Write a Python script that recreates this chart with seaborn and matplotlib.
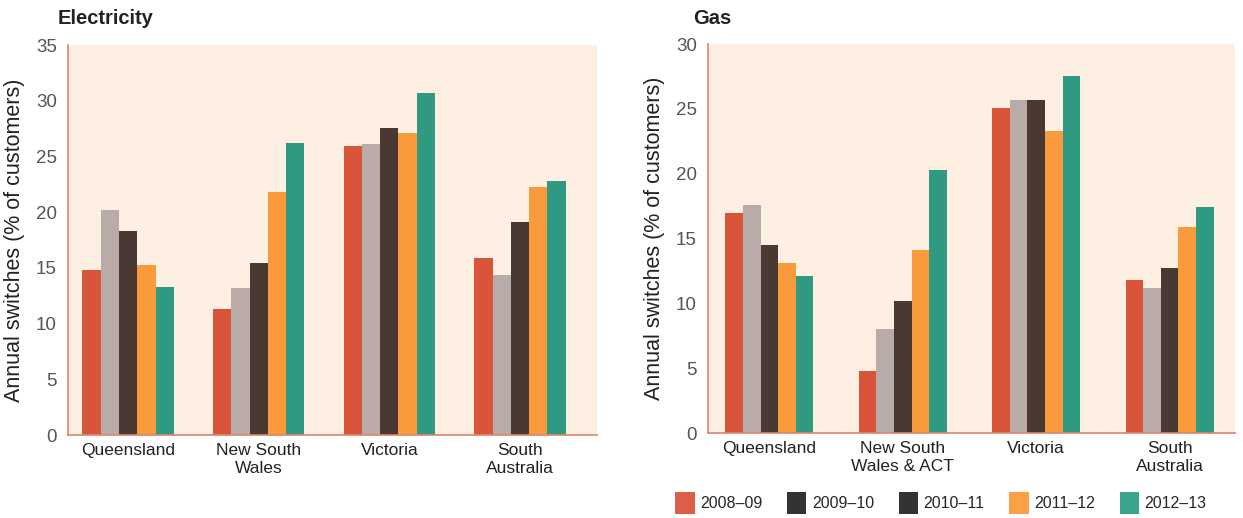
import matplotlib
matplotlib.use("Agg")
import matplotlib.pyplot as plt
from matplotlib.patches import Patch
import seaborn as sns
import pandas as pd

# Annual retail switching rates by state (% of customers)
years = ["2008–09", "2009–10", "2010–11", "2011–12", "2012–13"]

elec_states = ["Queensland", "New South\nWales", "Victoria", "South\nAustralia"]
elec_2008_09 = [14.8, 11.3, 25.9, 15.9]
elec_2009_10 = [20.2, 13.2, 26.1, 14.4]
elec_2010_11 = [18.3, 15.4, 27.6, 19.1]
elec_2011_12 = [15.3, 21.8, 27.1, 22.3]
elec_2012_13 = [13.3, 26.2, 30.7, 22.8]

gas_states = ["Queensland", "New South\nWales & ACT", "Victoria", "South\nAustralia"]
gas_2008_09 = [17.0, 4.8, 25.1, 11.8]
gas_2009_10 = [17.6, 8.0, 25.7, 11.2]
gas_2010_11 = [14.5, 10.2, 25.7, 12.7]
gas_2011_12 = [13.1, 14.1, 23.3, 15.9]
gas_2012_13 = [12.1, 20.3, 27.5, 17.4]

bar_colors = ["#D9553A", "#B9ACA8", "#4A3833", "#F99A3D", "#2F9A81"]
legend_colors = ["#DD5E48", "#333333", "#333333", "#FBA044", "#3AA38C"]
face = "#FDF0E2"
spine = "#D9866C"
tick_grey = "#555555"


def long_table(states, series):
    rows = []
    for yr, vals in zip(years, series):
        for st, v in zip(states, vals):
            rows.append({"state": st, "year": yr, "value": v})
    return pd.DataFrame(rows)


elec = long_table(elec_states, [elec_2008_09, elec_2009_10, elec_2010_11,
                                elec_2011_12, elec_2012_13])
gas = long_table(gas_states, [gas_2008_09, gas_2009_10, gas_2010_11,
                              gas_2011_12, gas_2012_13])

sns.set_style("white")
plt.rcParams["font.family"] = ["Liberation Sans", "DejaVu Sans"]

fig = plt.figure(figsize=(12.43, 5.18), dpi=100)
ax1 = fig.add_axes([0.0547, 0.160, 0.4256, 0.753])
ax2 = fig.add_axes([0.5696, 0.164, 0.424, 0.751])

panels = [
    (ax1, elec, elec_states, "Electricity", 35, (-0.46, 3.59), 0.70, 0.0467),
    (ax2, gas, gas_states, "Gas", 30, (-0.46, 3.49), 0.66, 0.5575),
]

for ax, df, states, title, ymax, xlim, bw, tx in panels:
    sns.barplot(data=df, x="state", y="value", hue="year", order=states,
                hue_order=years, palette=bar_colors, width=bw, gap=0,
                linewidth=0, saturation=1, legend=False, ax=ax)
    ax.set_facecolor(face)
    ax.set_ylim(0, ymax)
    ax.set_xlim(*xlim)
    ax.set_yticks(range(0, ymax + 1, 5))
    ax.set_xlabel("")
    ax.set_ylabel("Annual switches (% of customers)", fontsize=15.5,
                  color="#222222", labelpad=8)
    ax.tick_params(axis="y", length=0, labelsize=13.5, labelcolor=tick_grey, pad=8)
    ax.tick_params(axis="x", length=0, labelsize=12.5, labelcolor="#222222", pad=6)
    for s in ["top", "right"]:
        ax.spines[s].set_visible(False)
    for s in ["left", "bottom"]:
        ax.spines[s].set_color(spine)
        ax.spines[s].set_linewidth(1.2)
    fig.text(tx, 0.965, title, fontsize=14.5, fontweight="bold",
             color="#222222", ha="left", va="center")

handles = [Patch(facecolor=c, edgecolor="none") for c in legend_colors]
fig.legend(handles, years, loc="center", ncol=5,
           bbox_to_anchor=(0.757, 0.029), frameon=False, fontsize=11.5,
           handlelength=1.2, handleheight=1.8, handletextpad=0.35,
           columnspacing=1.55, borderpad=0.2)

fig.savefig("out.png", dpi=100, facecolor="white")
